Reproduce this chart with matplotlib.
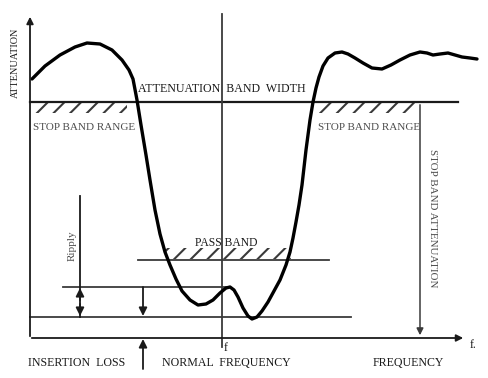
import matplotlib.pyplot as plt
from matplotlib.patches import Rectangle

# response curve (frequency -> attenuation, screen units, attenuation grows upward)
freq = [32, 45, 60, 75, 87, 100, 112, 122, 129, 133, 137, 141, 146, 150, 155, 160, 165, 170,
        176, 182, 190, 198, 206, 213, 220, 226, 230, 234, 238, 243, 248, 252, 257, 262,
        268, 274, 280, 286, 290, 293, 296, 299, 302, 306, 310, 313, 316, 319, 323, 328,
        335, 342, 348, 355, 363, 372, 382, 391, 400, 410, 420, 427, 433, 440, 448, 455,
        462, 470, 477]
atten = [79, 66, 55, 47, 43, 44, 50, 60, 70, 79, 100, 125, 155, 180, 210, 234, 252, 265,
         279, 291, 300, 305, 304, 300, 293, 288, 287, 290, 297, 308, 316, 319, 317, 311,
         302, 291, 280, 265, 252, 238, 222, 205, 185, 150, 120, 102, 88, 77, 66, 58,
         53, 52, 54, 58, 63, 68, 69, 65, 60, 55, 52, 53, 55, 54, 53, 55, 57, 58, 59]

# reference levels
band_width_level = 102
pass_band_level = 260
ripple_level = 287
min_loss_level = 317
axis_level = 338
centre_freq = 222
stop_edge = 420

plt.rcParams['hatch.linewidth'] = 1.5

fig = plt.figure(figsize=(4.88, 3.78), dpi=100)
ax = fig.add_axes([0, 0, 1, 1])
ax.set_xlim(0, 488)
ax.set_ylim(378, 0)
ax.axis('off')

serif = 'Liberation Serif'
dark = '#1a1a1a'
grey = '#3a3a3a'
light = '#4d4d4d'

# axes with arrows
ax.annotate('', xy=(30, 14), xytext=(30, axis_level + 1),
            arrowprops=dict(arrowstyle='-|>', color=dark, lw=1.3, mutation_scale=10))
ax.annotate('', xy=(466, axis_level), xytext=(29, axis_level),
            arrowprops=dict(arrowstyle='-|>', color=dark, lw=1.3, mutation_scale=10))

# horizontal levels
ax.plot([30, 458], [band_width_level] * 2, color=dark, lw=1.6)
ax.plot([138, 329], [pass_band_level] * 2, color=grey, lw=1.3)
ax.plot([63, 230], [ripple_level] * 2, color=grey, lw=1.3)
ax.plot([30, 351], [min_loss_level] * 2, color=grey, lw=1.3)

# centre frequency line
ax.plot([centre_freq] * 2, [14, 347], color=grey, lw=1.3)

# hatched regions
for x0, x1, y0, y1 in [(34, 127, band_width_level + 1, band_width_level + 11),
                       (319, 416, band_width_level + 1, band_width_level + 11),
                       (165, 291, pass_band_level - 12, pass_band_level - 1)]:
    ax.add_patch(Rectangle((x0, y0), x1 - x0, y1 - y0, fill=False, lw=0,
                           hatch='//', edgecolor=grey))

# stop band attenuation arrow
ax.annotate('', xy=(stop_edge, axis_level), xytext=(stop_edge, band_width_level),
            arrowprops=dict(arrowstyle='-|>', color=grey, lw=1.1, mutation_scale=10))

# ripple arrows
ax.plot([80, 80], [196, min_loss_level], color=dark, lw=1.3)
ax.annotate('', xy=(80, ripple_level + 1), xytext=(80, 300),
            arrowprops=dict(arrowstyle='-|>', color=dark, lw=1.3, mutation_scale=12,
                            shrinkA=0, shrinkB=0))
ax.annotate('', xy=(80, min_loss_level - 1), xytext=(80, 304),
            arrowprops=dict(arrowstyle='-|>', color=dark, lw=1.3, mutation_scale=12,
                            shrinkA=0, shrinkB=0))
ax.annotate('', xy=(143, min_loss_level - 1), xytext=(143, ripple_level),
            arrowprops=dict(arrowstyle='-|>', color=dark, lw=1.3, mutation_scale=12,
                            shrinkA=0, shrinkB=0))

# insertion loss arrow
ax.annotate('', xy=(143, axis_level + 1), xytext=(143, 369),
            arrowprops=dict(arrowstyle='-|>', color=dark, lw=1.3, mutation_scale=12,
                            shrinkA=0, shrinkB=0))

# response curve
ax.plot(freq, atten, color='black', lw=2.4, solid_capstyle='round', solid_joinstyle='round')

# labels
fs = 8.6
ax.text(15, 63, 'ATTENUATION', rotation=90, ha='center', va='center',
        fontsize=7.4, family=serif, color=dark)
ax.text(138, 89, 'ATTENUATION  BAND  WIDTH', ha='left', va='center',
        fontsize=fs, family=serif, color=dark)
ax.text(33, 127, 'STOP BAND RANGE', ha='left', va='center',
        fontsize=8, family=serif, color=light)
ax.text(318, 127, 'STOP BAND RANGE', ha='left', va='center',
        fontsize=8, family=serif, color=light)
ax.text(195, 243, 'PASS BAND', ha='left', va='center',
        fontsize=8.4, family=serif, color=dark)
ax.text(72, 246, 'Ripply', rotation=90, ha='center', va='center',
        fontsize=8, family=serif, color=light)
ax.text(432, 218, 'STOP BAND ATTENUATION', rotation=-90, ha='center', va='center',
        fontsize=7.9, family=serif, color=light)
ax.text(226, 348, 'f', ha='center', va='center', fontsize=fs, family=serif, color=dark)
ax.text(470, 345, 'f.', ha='left', va='center', fontsize=fs, family=serif, color=dark)
ax.text(28, 363, 'INSERTION  LOSS', ha='left', va='center',
        fontsize=fs, family=serif, color=dark)
ax.text(162, 363, 'NORMAL  FREQUENCY', ha='left', va='center',
        fontsize=fs, family=serif, color=dark)
ax.text(373, 363, 'FREQUENCY', ha='left', va='center',
        fontsize=fs, family=serif, color=dark)

fig.savefig('out.png', dpi=100)
